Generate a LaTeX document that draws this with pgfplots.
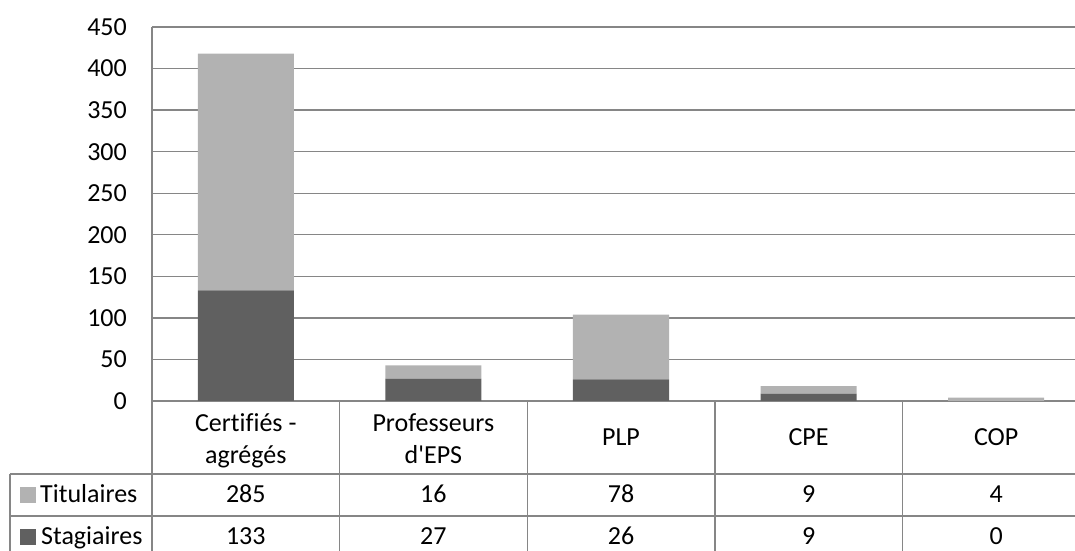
\documentclass[border=0pt]{standalone}
\usepackage{fontspec}
\setmainfont{Carlito}[Ligatures={NoCommon}]
\usepackage{pgfplots}
\pgfplotsset{compat=1.18}
\definecolor{tit}{HTML}{B2B2B2}
\definecolor{sta}{HTML}{606060}
\definecolor{grd}{HTML}{868686}
\begin{document}
\begin{tikzpicture}[font=\fontsize{26}{31}\selectfont]
\begin{axis}[
    name=ax,
    width=923pt, height=374pt, scale only axis,
    xmin=-0.5, xmax=4.42,
    ymin=0, ymax=450,
    ytick={0,50,...,450},
    xtick=\empty,
    ymajorgrids,
    grid style={grd, line width=1.4pt},
    axis x line*=bottom, axis y line*=left,
    axis line style={grd, line width=1.4pt, -},
    major tick length=0pt,
    ybar stacked, bar width=0.512,
    clip=false,
    yticklabel style={inner sep=0pt, xshift=-25pt},
    /pgf/number format/assume math mode=true
]
% Stagiaires (bas de pile)
\addplot[fill=sta, draw=none] coordinates {(0,133) (1,27) (2,26) (3,9) (4,0)};
% Titulaires
\addplot[fill=tit, draw=none] coordinates {(0,285) (1,16) (2,78) (3,9) (4,4)};

% tableau de données sous le graphique
\draw[grd, line width=1.4pt] (axis cs:-0.5,0) -- ([yshift=-160pt]axis cs:-0.5,0);
\draw[grd, line width=1.4pt] (axis cs:0.5,0) -- ([yshift=-160pt]axis cs:0.5,0);
\draw[grd, line width=1.4pt] (axis cs:1.5,0) -- ([yshift=-160pt]axis cs:1.5,0);
\draw[grd, line width=1.4pt] (axis cs:2.5,0) -- ([yshift=-160pt]axis cs:2.5,0);
\draw[grd, line width=1.4pt] (axis cs:3.5,0) -- ([yshift=-160pt]axis cs:3.5,0);
\draw[grd, line width=1.4pt] ([xshift=-142pt,yshift=-73pt]axis cs:-0.5,0) -- ([yshift=-73pt]axis cs:4.42,0);
\draw[grd, line width=1.4pt] ([xshift=-142pt,yshift=-115pt]axis cs:-0.5,0) -- ([yshift=-115pt]axis cs:4.42,0);
\draw[grd, line width=1.4pt] ([xshift=-142pt,yshift=-73pt]axis cs:-0.5,0) -- ([xshift=-142pt,yshift=-160pt]axis cs:-0.5,0);

\node[anchor=base] at ([yshift=-31pt]axis cs:0,0) {Certifiés -};
\node[anchor=base] at ([yshift=-63pt]axis cs:0,0) {agrégés};
\node[anchor=base] at ([yshift=-31pt]axis cs:1,0) {Professeurs};
\node[anchor=base] at ([yshift=-63pt]axis cs:1,0) {d\textquotesingle EPS};
\node[anchor=base] at ([yshift=-45pt]axis cs:2,0) {PLP};
\node[anchor=base] at ([yshift=-45pt]axis cs:3,0) {CPE};
\node[anchor=base] at ([yshift=-45pt]axis cs:4,0) {COP};

\node[anchor=base] at ([yshift=-102pt]axis cs:0,0) {285};
\node[anchor=base] at ([yshift=-102pt]axis cs:1,0) {16};
\node[anchor=base] at ([yshift=-102pt]axis cs:2,0) {78};
\node[anchor=base] at ([yshift=-102pt]axis cs:3,0) {9};
\node[anchor=base] at ([yshift=-102pt]axis cs:4,0) {4};
\node[anchor=base] at ([yshift=-144pt]axis cs:0,0) {133};
\node[anchor=base] at ([yshift=-144pt]axis cs:1,0) {27};
\node[anchor=base] at ([yshift=-144pt]axis cs:2,0) {26};
\node[anchor=base] at ([yshift=-144pt]axis cs:3,0) {9};
\node[anchor=base] at ([yshift=-144pt]axis cs:4,0) {0};

% légende dans la première colonne
\fill[tit] ([xshift=-132pt,yshift=-86pt]axis cs:-0.5,0) rectangle ([xshift=-116pt,yshift=-102pt]axis cs:-0.5,0);
\fill[sta] ([xshift=-132pt,yshift=-128pt]axis cs:-0.5,0) rectangle ([xshift=-116pt,yshift=-144pt]axis cs:-0.5,0);
\node[anchor=base west, inner sep=0pt] at ([xshift=-112pt,yshift=-102pt]axis cs:-0.5,0) {Titulaires};
\node[anchor=base west, inner sep=0pt] at ([xshift=-111pt,yshift=-144pt]axis cs:-0.5,0) {Stagiaires};
\end{axis}
\pgfresetboundingbox
\path[use as bounding box] ([xshift=-152pt,yshift=-150pt]ax.south west) rectangle ([yshift=27pt]ax.north east);
\end{tikzpicture}
\end{document}
